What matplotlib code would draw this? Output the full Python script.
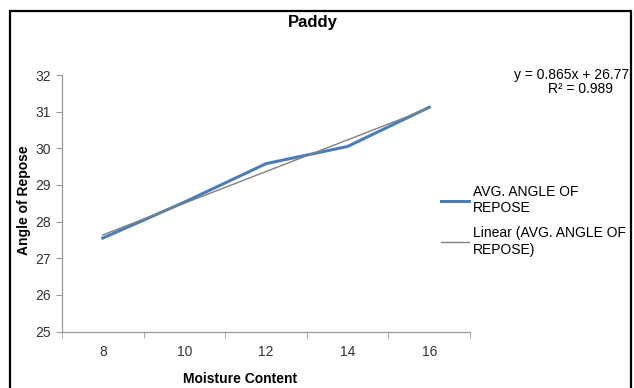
import numpy as np
import matplotlib
matplotlib.use("Agg")
import matplotlib.pyplot as plt
from matplotlib.patches import Rectangle

plt.rcParams['font.family'] = ['Liberation Sans', 'DejaVu Sans']

categories = ["8", "10", "12", "14", "16"]
avg_angle = [27.55, 28.53, 29.58, 30.05, 31.12]
trend_slope = 0.865
trend_intercept = 26.77
trend_r2 = 0.989
series_label = "AVG. ANGLE OF\nREPOSE"
trend_label = "Linear (AVG. ANGLE OF\nREPOSE)"
yticks = [25, 26, 27, 28, 29, 30, 31, 32]

fig = plt.figure(figsize=(6.34, 3.88), dpi=100)
ax = fig.add_axes([62/634, 1-331.5/388, (470-62)/634, (331.5-75)/388])

x = np.arange(1, len(categories) + 1)
trend = trend_slope * x + trend_intercept

l1, = ax.plot(x, avg_angle, color='#4a7ebb', lw=2.2, label=series_label, zorder=2)
l2, = ax.plot(x, trend, color='#808080', lw=1.0, label=trend_label, zorder=3)

ax.set_xlim(0.5, len(categories) + 0.5)
ax.set_ylim(25, 32)
ax.set_yticks(yticks)
ax.set_yticklabels([str(v) for v in yticks], fontsize=10, color='#333333')
ax.set_xticks(x)
ax.set_xticklabels(categories, fontsize=10, color='#333333')
ax.set_xticks(np.arange(0.5, len(categories) + 1, 1), minor=True)
ax.tick_params(axis='x', which='major', length=0, pad=10)
ax.tick_params(axis='x', which='minor', length=4, color='#999999', direction='out')
ax.tick_params(axis='y', length=4, color='#999999', direction='out', pad=4)
for s in ['top', 'right']:
    ax.spines[s].set_visible(False)
for s in ['left', 'bottom']:
    ax.spines[s].set_color('#999999')
    ax.spines[s].set_linewidth(0.9)

fig.text(313/634, 1-23/388, "Paddy", ha='center', va='center', fontsize=12, fontweight='bold')
fig.text(24/634, 1-200/388, "Angle of Repose", ha='center', va='center', rotation=90,
         fontsize=10, fontweight='bold')
fig.text(240/634, 1-379/388, "Moisture Content", ha='center', va='center',
         fontsize=10, fontweight='bold')
fig.text(629/634, 1-75/388, f"y = {trend_slope:.3f}x + {trend_intercept:.2f}", ha='right',
         va='center', fontsize=10)
fig.text(613/634, 1-89/388, f"R² = {trend_r2:.3f}", ha='right', va='center', fontsize=10)

leg = fig.legend(handles=[l1, l2], loc='upper left', bbox_to_anchor=(441/634, 1-185/388),
                 frameon=False, fontsize=10, handlelength=2.0, handletextpad=0.3,
                 labelspacing=0.8, borderaxespad=0, borderpad=0)

fig.add_artist(Rectangle((10/634, -0.05), (631-10)/634, 1.05-11/388, transform=fig.transFigure,
                         fill=False, edgecolor='black', lw=1.6))

fig.savefig("out.png", dpi=100)
